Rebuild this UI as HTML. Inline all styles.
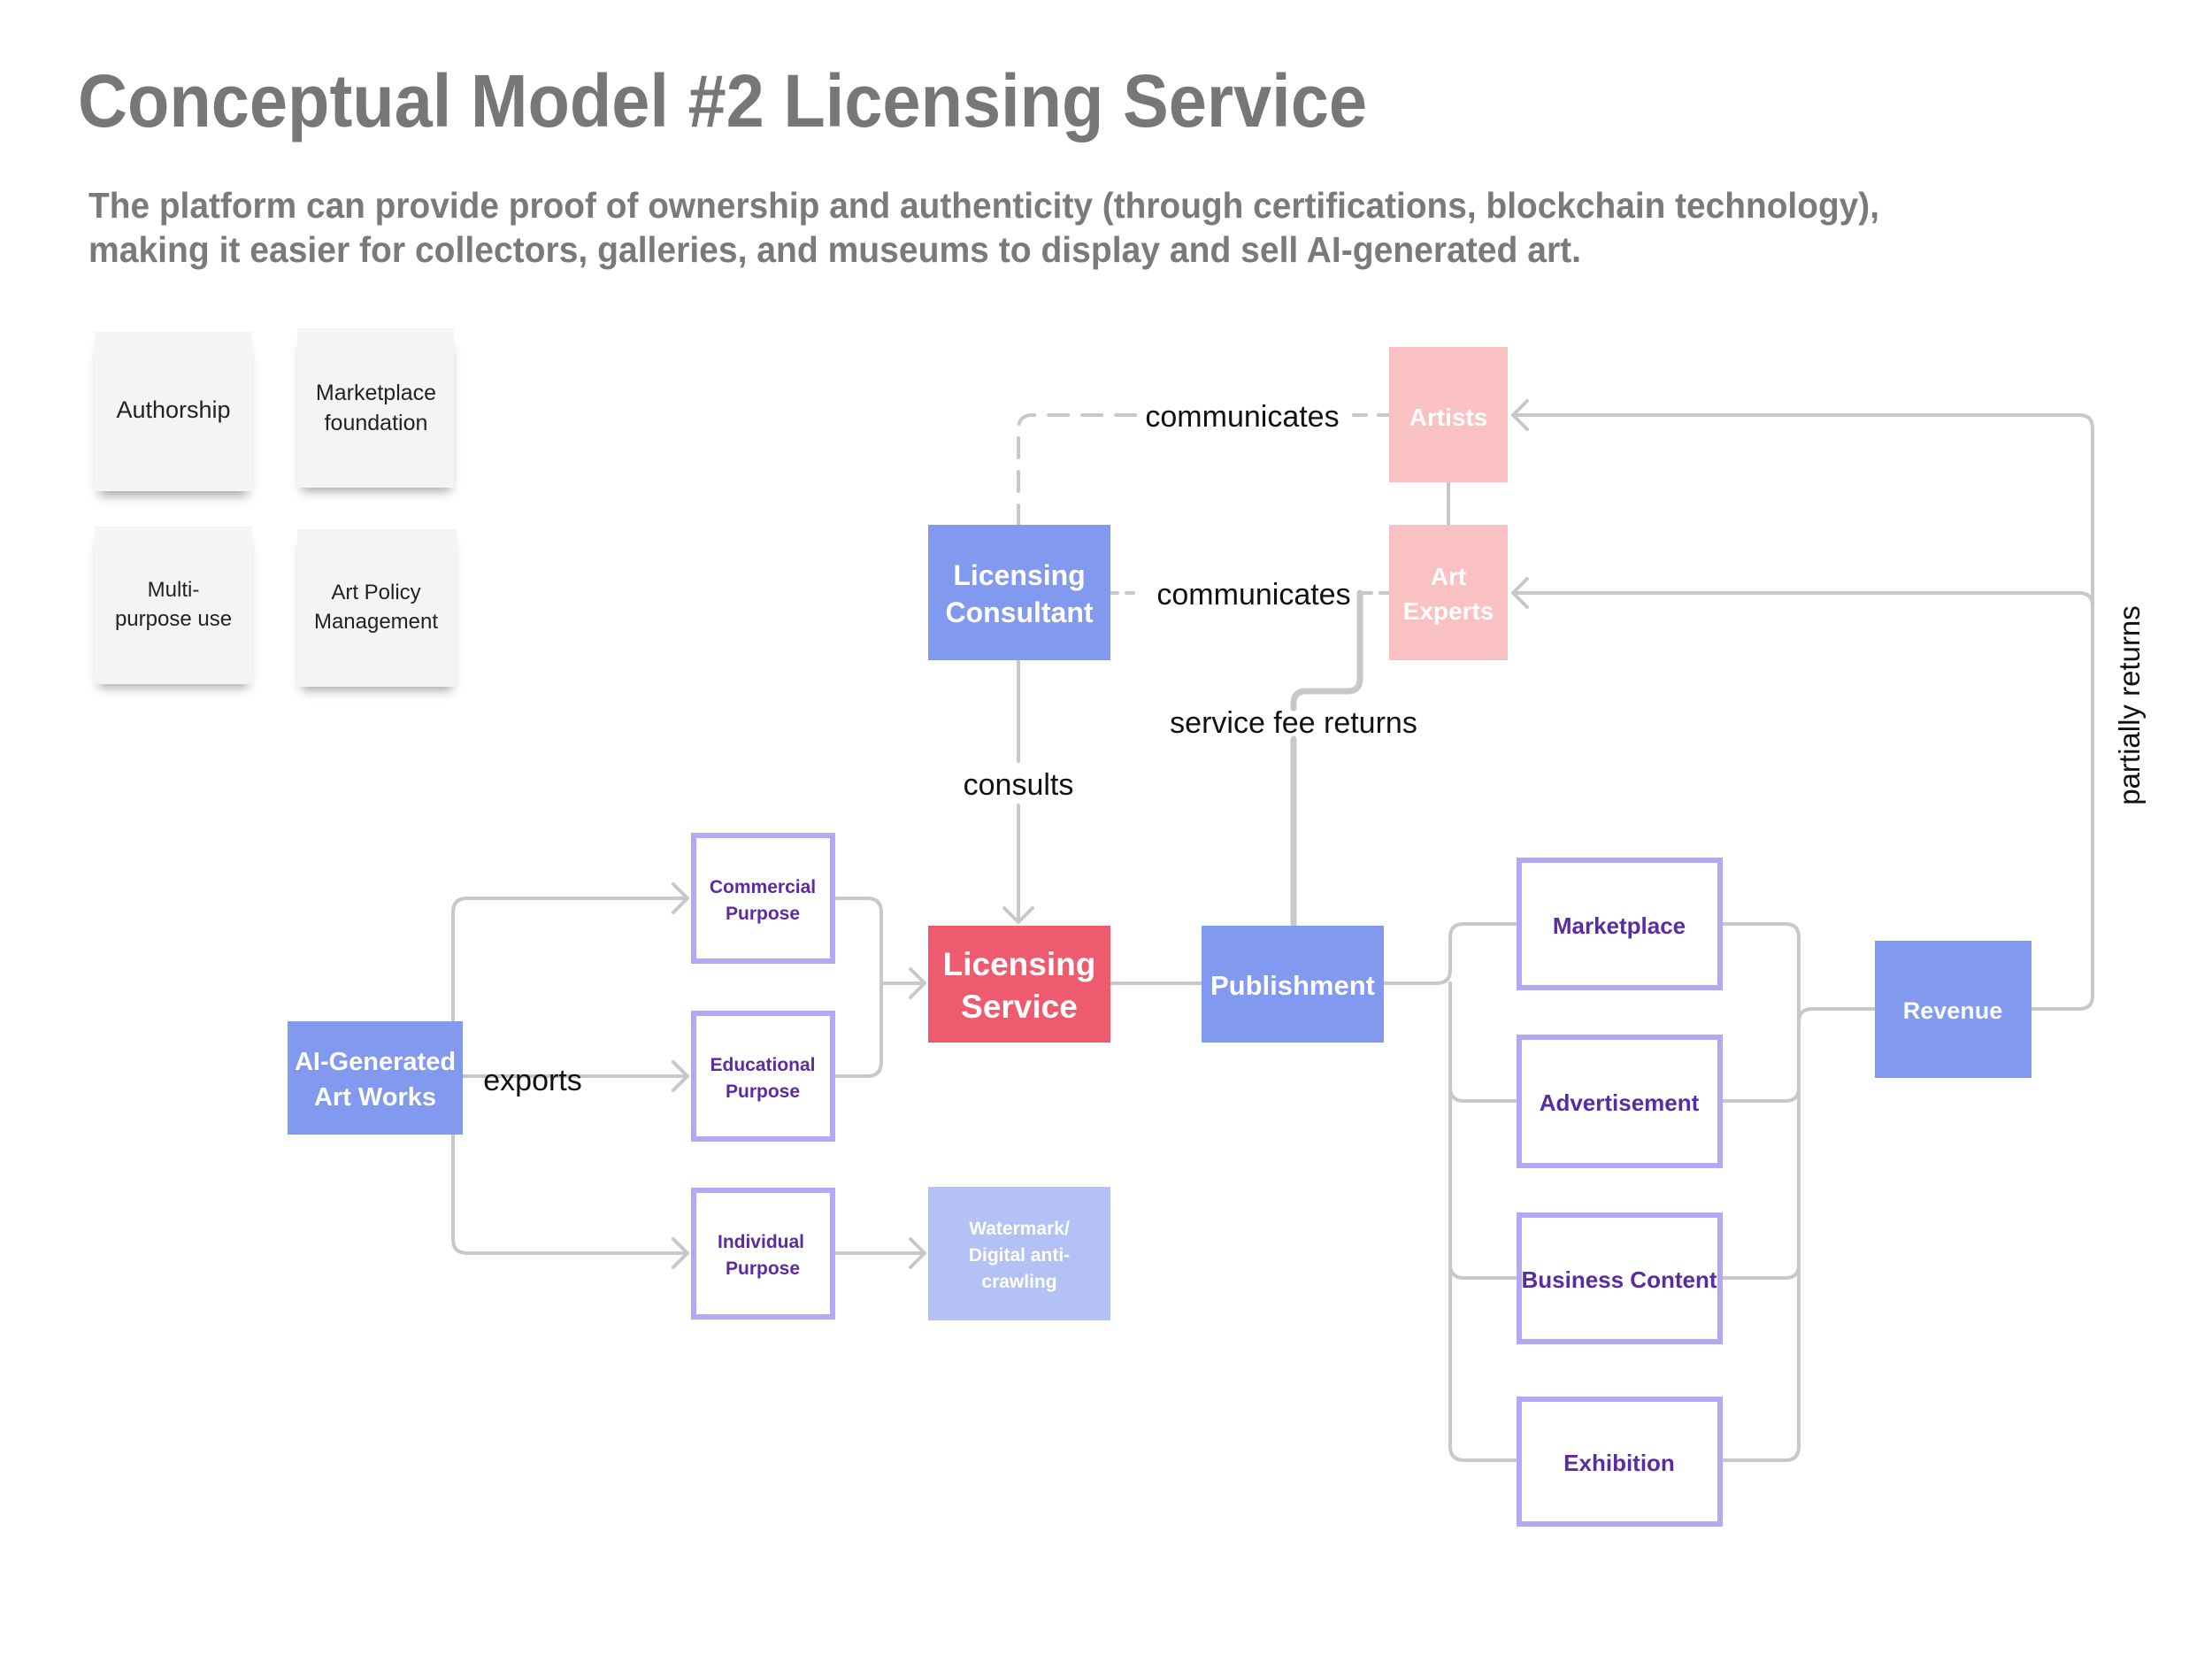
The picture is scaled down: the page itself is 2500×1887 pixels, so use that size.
<!DOCTYPE html>
<html><head><meta charset="utf-8"><style>
html,body{margin:0;padding:0;background:#fff;}
svg text{font-family:"Liberation Sans",sans-serif;}
</style></head><body>
<svg width="2500" height="1882" viewBox="0 0 2500 1882" xmlns="http://www.w3.org/2000/svg">
<defs>
<filter id="sh" x="-20%" y="-20%" width="140%" height="150%"><feDropShadow dx="0" dy="10" stdDeviation="6" flood-color="#000" flood-opacity="0.35"/></filter>
</defs>
<rect width="2500" height="1882" fill="#fff"/>
<text x="88" y="143" font-size="84" font-weight="bold" fill="#777" textLength="1457" lengthAdjust="spacingAndGlyphs">Conceptual Model #2 Licensing Service</text>
<text x="100" y="246" font-size="41" font-weight="bold" fill="#7a7a7a" textLength="2024" lengthAdjust="spacingAndGlyphs">The platform can provide proof of ownership and authenticity (through certifications, blockchain technology),</text>
<text x="100" y="296" font-size="41" font-weight="bold" fill="#7a7a7a" textLength="1687" lengthAdjust="spacingAndGlyphs">making it easier for collectors, galleries, and museums to display and sell AI-generated art.</text>

<!-- stickies -->
<g font-size="27" fill="#222" text-anchor="middle">
<rect x="112" y="385" width="168" height="165" fill="#f4f4f5" filter="url(#sh)"/>
<rect x="107" y="375" width="178" height="180" fill="#f4f4f5"/>
<text x="196" y="472">Authorship</text>
<rect x="341" y="380" width="168" height="165" fill="#f4f4f5" filter="url(#sh)"/>
<rect x="336" y="371" width="177" height="180" fill="#f4f4f5"/>
<text x="425" y="452" font-size="25">Marketplace</text><text x="425" y="486" font-size="25">foundation</text>
<rect x="112" y="602" width="168" height="165" fill="#f4f4f5" filter="url(#sh)"/>
<rect x="107" y="595" width="178" height="178" fill="#f4f4f5"/>
<text x="196" y="674" font-size="24">Multi-</text><text x="196" y="707" font-size="24">purpose use</text>
<rect x="341" y="605" width="170" height="165" fill="#f4f4f5" filter="url(#sh)"/>
<rect x="336" y="598" width="181" height="178" fill="#f4f4f5"/>
<text x="425" y="677" font-size="24">Art Policy</text><text x="425" y="710" font-size="24">Management</text>
</g>

<!-- connectors -->
<g fill="none" stroke="#c8c8c8" stroke-width="4" stroke-linecap="round" stroke-linejoin="round">
<path d="M1151 593 V485 Q1151 469 1167 469 H1290" stroke-dasharray="22 16"/>
<path d="M1530 469 H1570" stroke-dasharray="14 14"/>
<path d="M1255 670 H1290" stroke-dasharray="8 10"/>
<path d="M1540 670 H1570" stroke-dasharray="10 10"/>
<line x1="1637" y1="545" x2="1637" y2="593"/>
<path d="M1151 746 V860"/><path d="M1151 910 V1042"/><path d="M1135 1026 L1151 1042 L1167 1026"/>
<path d="M1462 1046 V835"/><path d="M1462 800 V795 Q1462 781 1476 781 H1523 Q1537 781 1537 767 V670" stroke-width="7"/>
<path d="M1462 1046 V835" stroke-width="7"/>
<line x1="1255" y1="1111" x2="1358" y2="1111"/>
<path d="M2296 1140 H2350 Q2365 1140 2365 1125 V484 Q2365 469 2350 469 H1710"/>
<path d="M1726 453 L1710 469 L1726 485"/>
<path d="M2365 685 Q2365 670 2350 670 H1710"/><path d="M1726 654 L1710 670 L1726 686"/>
<!-- left -->
<path d="M523 1216 H777"/><path d="M761 1200 L777 1216 L761 1232"/>
<path d="M512 1154 V1031 Q512 1015 528 1015 H777"/><path d="M761 999 L777 1015 L761 1031"/>
<path d="M512 1282 V1400 Q512 1416 528 1416 H777"/><path d="M761 1400 L777 1416 L761 1432"/>
<path d="M944 1015 H980 Q996 1015 996 1031 V1200 Q996 1216 980 1216 H944"/>
<path d="M996 1111 H1045"/><path d="M1029 1095 L1045 1111 L1029 1127"/>
<path d="M944 1416 H1045"/><path d="M1029 1400 L1045 1416 L1029 1432"/>
<!-- publishment bus -->
<path d="M1564 1111 H1624 Q1639 1111 1639 1096 V1059 Q1639 1044 1654 1044 H1714"/>
<path d="M1639 1111 V1634 Q1639 1650 1655 1650 H1714"/>
<path d="M1639 1229 Q1639 1244 1655 1244 H1714"/>
<path d="M1639 1429 Q1639 1444 1655 1444 H1714"/>
<!-- revenue bus -->
<path d="M1947 1044 H2018 Q2033 1044 2033 1059 V1634 Q2033 1650 2018 1650 H1947"/>
<path d="M1947 1244 H2018 Q2033 1244 2033 1229"/>
<path d="M1947 1444 H2018 Q2033 1444 2033 1429"/>
<path d="M2033 1155 Q2033 1140 2048 1140 H2119"/>
</g>

<!-- labels -->
<g font-size="34" fill="#111" text-anchor="middle">
<text x="1404" y="482">communicates</text>
<text x="1417" y="683">communicates</text>
<text x="1151" y="898">consults</text>
<text x="1462" y="828">service fee returns</text>
<text x="602" y="1232">exports</text>
<text transform="translate(2418 797) rotate(-90)" font-size="33">partially returns</text>
</g>

<!-- nodes -->
<g font-weight="bold" text-anchor="middle">
<rect x="1049" y="593" width="206" height="153" fill="#8199ef"/>
<text x="1152" y="661" font-size="32" fill="#fff">Licensing</text><text x="1152" y="703" font-size="32" fill="#fff">Consultant</text>
<rect x="1570" y="392" width="134" height="153" fill="#f9c1c2"/>
<text x="1637" y="481" font-size="28" fill="#fff">Artists</text>
<rect x="1570" y="593" width="134" height="153" fill="#f9c1c2"/>
<text x="1637" y="661" font-size="28" fill="#fff">Art</text><text x="1637" y="700" font-size="28" fill="#fff">Experts</text>
<rect x="1049" y="1046" width="206" height="132" fill="#ee5a6e"/>
<text x="1152" y="1102" font-size="37" fill="#fff">Licensing</text><text x="1152" y="1150" font-size="37" fill="#fff">Service</text>
<rect x="1358" y="1046" width="206" height="132" fill="#8199ef"/>
<text x="1461" y="1124" font-size="31" fill="#fff">Publishment</text>
<rect x="325" y="1154" width="198" height="128" fill="#8199ef"/>
<text x="424" y="1209" font-size="29" fill="#fff">AI-Generated</text><text x="424" y="1249" font-size="29" fill="#fff">Art Works</text>
<rect x="1049" y="1341" width="206" height="151" fill="#b3c1f5"/>
<text x="1152" y="1395" font-size="21" fill="#fff">Watermark/</text><text x="1152" y="1425" font-size="21" fill="#fff">Digital anti-</text><text x="1152" y="1455" font-size="21" fill="#fff">crawling</text>
<rect x="2119" y="1063" width="177" height="155" fill="#8199ef"/>
<text x="2207" y="1151" font-size="27" fill="#fff">Revenue</text>
<g fill="#fff" stroke="#b3a8f4" stroke-width="6">
<rect x="784" y="944" width="157" height="142"/>
<rect x="784" y="1145" width="157" height="142"/>
<rect x="784" y="1345" width="157" height="143"/>
<rect x="1717" y="972" width="227" height="144"/>
<rect x="1717" y="1172" width="227" height="145"/>
<rect x="1717" y="1373" width="227" height="143"/>
<rect x="1717" y="1581" width="227" height="141"/>
</g>
<g fill="#5b2ba3">
<text x="862" y="1009" font-size="21">Commercial</text><text x="862" y="1039" font-size="21">Purpose</text>
<text x="862" y="1210" font-size="21">Educational</text><text x="862" y="1240" font-size="21">Purpose</text>
<text x="860" y="1410" font-size="21">Individual</text><text x="862" y="1440" font-size="21">Purpose</text>
<text x="1830" y="1055" font-size="26">Marketplace</text>
<text x="1830" y="1255" font-size="26">Advertisement</text>
<text x="1830" y="1455" font-size="26">Business Content</text>
<text x="1830" y="1662" font-size="26">Exhibition</text>
</g>
</g>
</svg>
</body></html>
